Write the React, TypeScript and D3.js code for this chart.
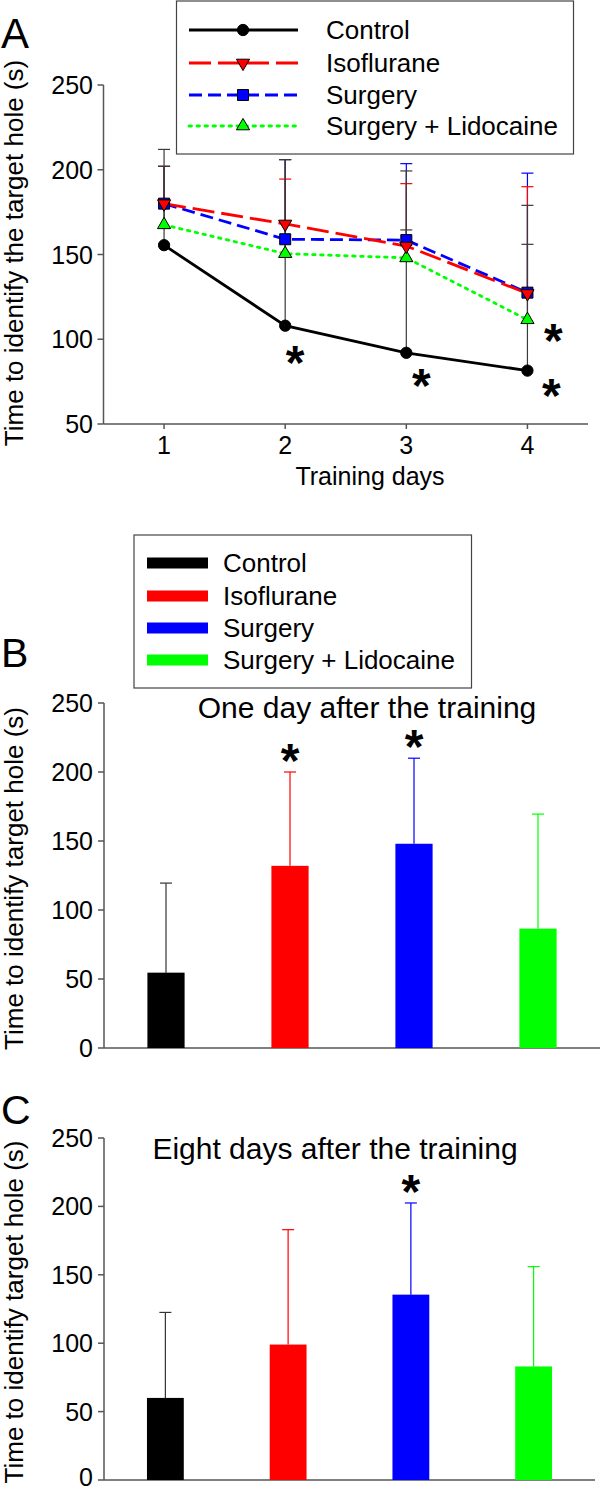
import React from "react";
import * as d3 from "d3";

const FONT = "'Liberation Sans', Arial, Helvetica, sans-serif";

// ---------- Panel A data ----------
const days = [1, 2, 3, 4];
const seriesNames = ["Control", "Isoflurane", "Surgery", "Surgery + Lidocaine"];
const controlMean = [155.5, 108, 92, 81.5];
const isoMean = [180, 168, 155, 127];
const surgeryMean = [180, 159, 158.5, 127.5];
const lidoMean = [167.5, 150.5, 148, 111.5];
const controlErrTop = [212, 206, 199.3, 179];
const isoErrTop = [202, 194.5, 191.8, 190];
const surgeryErrTop = [202, 206, 203.6, 198];
const lidoErrTop = [202, 206, 164.5, 156];
const yTicksA = [50, 100, 150, 200, 250];

// ---------- Panel B / C data ----------
const groups = ["Control", "Isoflurane", "Surgery", "Surgery + Lidocaine"];
const oneDayMean = [54.6, 132, 148, 86.5];
const oneDayErrTop = [119.5, 200, 210, 169.5];
const oneDayStars = [false, true, true, false];
const eightDayMean = [60, 99, 135.5, 83];
const eightDayErrTop = [122.5, 183, 202.5, 156];
const eightDayStars = [false, false, true, false];
const yTicksBar = [0, 50, 100, 150, 200, 250];

const colors = ["#000000", "#ff0000", "#0000ff", "#00ff00"];
const errColorsA = ["#3a3a3a", "#ff0000", "#0000ff", "#3a3a3a"];
const errColorsBar = ["#333333", "#ff0000", "#0000ff", "#00ff00"];
const dashes = ["none", "22,7", "13,6", "2.5,5.5"];

const AXIS = "#555555";

function Star({ x, y }: { x: number; y: number }) {
  return (
    <text x={x} y={y + 27} textAnchor="middle" fontSize={48} fontWeight="bold" fontFamily={FONT} fill="#000">
      *
    </text>
  );
}

function Marker({ kind, x, y }: { kind: number; x: number; y: number }) {
  if (kind === 0) {
    const p = d3.symbol().type(d3.symbolCircle).size(100)();
    return <path d={p || ""} transform={`translate(${x},${y})`} fill="#000" stroke="#000" strokeWidth={1} />;
  }
  if (kind === 1) {
    const p = d3.symbol().type(d3.symbolTriangle).size(75)();
    return <path d={p || ""} transform={`translate(${x},${y}) rotate(180)`} fill="#ff0000" stroke="#000" strokeWidth={1} />;
  }
  if (kind === 2) {
    const p = d3.symbol().type(d3.symbolSquare).size(121)();
    return <path d={p || ""} transform={`translate(${x},${y})`} fill="#0000ff" stroke="#000" strokeWidth={1} />;
  }
  const p = d3.symbol().type(d3.symbolTriangle).size(75)();
  return <path d={p || ""} transform={`translate(${x},${y})`} fill="#00ff00" stroke="#000" strokeWidth={1} />;
}

function PanelA() {
  const x = d3.scaleLinear().domain([0.5, 4.5]).range([103.5, 588]);
  const y = d3.scaleLinear().domain([50, 250]).range([424, 85]);
  const means = [controlMean, isoMean, surgeryMean, lidoMean];
  const errs = [controlErrTop, isoErrTop, surgeryErrTop, lidoErrTop];
  const line = d3
    .line<number>()
    .x((_, i) => x(days[i]))
    .y((d) => y(d));
  // draw order for error bars: colored first, dark on top
  const errOrder = [2, 1, 3, 0];
  const lineOrder = [3, 2, 1, 0];
  const legendRows = [30, 63, 95, 126];
  return (
    <g>
      <text x={1} y={48} fontSize={42} fontFamily={FONT}>A</text>
      {/* axes */}
      <line x1={103.5} x2={103.5} y1={y(250)} y2={y(50)} stroke={AXIS} strokeWidth={1.5} />
      <line x1={103.5} x2={588} y1={y(50)} y2={y(50)} stroke={AXIS} strokeWidth={1.5} />
      {yTicksA.map((t) => (
        <g key={t}>
          <line x1={97.5} x2={103.5} y1={y(t)} y2={y(t)} stroke={AXIS} strokeWidth={1.5} />
          <text x={93} y={y(t) + 9} textAnchor="end" fontSize={25} fontFamily={FONT}>{t}</text>
        </g>
      ))}
      {days.map((d) => (
        <g key={d}>
          <line x1={x(d)} x2={x(d)} y1={y(50)} y2={y(50) + 5} stroke={AXIS} strokeWidth={1.5} />
          <text x={x(d)} y={454} textAnchor="middle" fontSize={25} fontFamily={FONT}>{d}</text>
        </g>
      ))}
      <text x={370} y={485} textAnchor="middle" fontSize={25} fontFamily={FONT}>Training days</text>
      <text transform={`translate(23,253) rotate(-90)`} textAnchor="middle" fontSize={26} fontFamily={FONT}>
        Time to identify the target hole (s)
      </text>
      {/* error bars */}
      {errOrder.map((s) =>
        days.map((d, i) => (
          <g key={`e${s}-${i}`}>
            <line x1={x(d)} x2={x(d)} y1={y(means[s][i])} y2={y(errs[s][i])} stroke={errColorsA[s]} strokeWidth={1.2} />
            <line x1={x(d) - 6} x2={x(d) + 6} y1={y(errs[s][i])} y2={y(errs[s][i])} stroke={errColorsA[s]} strokeWidth={1.2} />
          </g>
        ))
      )}
      {/* lines */}
      {lineOrder.map((s) => (
        <path key={`l${s}`} d={line(means[s]) || ""} fill="none" stroke={colors[s]} strokeWidth={2.8}
          strokeDasharray={dashes[s]} strokeLinecap={s === 3 ? "round" : "butt"} />
      ))}
      {lineOrder.map((s) => days.map((d, i) => <Marker key={`m${s}-${i}`} kind={s} x={x(d)} y={y(means[s][i])} />))}
      {/* significance */}
      <Star x={x(2) + 10} y={y(controlMean[1]) + 26} />
      <Star x={x(3) + 15} y={y(controlMean[2]) + 22} />
      <Star x={x(4) + 24} y={y(controlMean[3]) + 14} />
      <Star x={x(4) + 26} y={y(lidoMean[3]) + 10} />
      {/* legend */}
      <rect x={176.5} y={1} width={397} height={153} fill="#fff" stroke="#444" strokeWidth={1.2} />
      {seriesNames.map((n, s) => (
        <g key={n}>
          <line x1={189} x2={298} y1={legendRows[s]} y2={legendRows[s]} stroke={colors[s]} strokeWidth={2.8}
            strokeDasharray={dashes[s]} strokeLinecap={s === 3 ? "round" : "butt"} />
          <Marker kind={s} x={243} y={legendRows[s]} />
          <text x={326} y={legendRows[s] + 9} fontSize={26} fontFamily={FONT}>{n}</text>
        </g>
      ))}
    </g>
  );
}

function BarPanel({ label, labelY, title, titleX, titleY, means, errs, stars, top, bottom, right, legend }: {
  label: string; labelY: number; title: string; titleX: number; titleY: number;
  means: number[]; errs: number[]; stars: boolean[]; top: number; bottom: number; right: number; legend: boolean;
}) {
  const x = d3.scaleBand<string>().domain(groups).range([104, right]).paddingInner(0.7).paddingOuter(0.35);
  const y = d3.scaleLinear().domain([0, 250]).range([bottom, top]);
  const legendRows = [563, 596, 628, 660];
  return (
    <g>
      <text x={1} y={labelY} fontSize={41} fontFamily={FONT}>{label}</text>
      {legend && (
        <g>
          <rect x={134} y={535} width={337.5} height={153} fill="#fff" stroke="#444" strokeWidth={1.2} />
          {groups.map((g, i) => (
            <g key={g}>
              <rect x={147} y={legendRows[i] - 5.5} width={61} height={11} fill={colors[i]} />
              <text x={223} y={legendRows[i] + 9} fontSize={26} fontFamily={FONT}>{g}</text>
            </g>
          ))}
        </g>
      )}
      <line x1={104} x2={104} y1={y(250)} y2={y(0)} stroke={AXIS} strokeWidth={1.5} />
      <line x1={104} x2={right} y1={y(0)} y2={y(0)} stroke={AXIS} strokeWidth={1.5} />
      {yTicksBar.map((t) => (
        <g key={t}>
          <line x1={98} x2={104} y1={y(t)} y2={y(t)} stroke={AXIS} strokeWidth={1.5} />
          <text x={93} y={Math.min(y(t) + 9, 1486)} textAnchor="end" fontSize={25} fontFamily={FONT}>{t}</text>
        </g>
      ))}
      <text transform={`translate(23,${(top + bottom) / 2 + 3}) rotate(-90)`} textAnchor="middle" fontSize={26} fontFamily={FONT}>
        Time to identify target hole (s)
      </text>
      <text x={titleX} y={titleY} textAnchor="middle" fontSize={30} fontFamily={FONT}>{title}</text>
      {groups.map((g, i) => {
        const cx = (x(g) || 0) + x.bandwidth() / 2;
        return (
          <g key={g}>
            <line x1={cx} x2={cx} y1={y(means[i])} y2={y(errs[i])} stroke={errColorsBar[i]} strokeWidth={1.2} />
            <line x1={cx - 6} x2={cx + 6} y1={y(errs[i])} y2={y(errs[i])} stroke={errColorsBar[i]} strokeWidth={1.2} />
            <rect x={x(g)} y={y(means[i])} width={x.bandwidth()} height={y(0) - y(means[i])} fill={colors[i]} />
            {stars[i] && <Star x={cx} y={y(errs[i]) - 22} />}
          </g>
        );
      })}
    </g>
  );
}

export default function App() {
  return (
    <svg width={600} height={1491} style={{ position: "absolute", left: 0, top: 0, background: "#fff" }}>
      <rect width={600} height={1491} fill="#fff" />
      <PanelA />
      <BarPanel label="B" labelY={667} title="One day after the training" titleX={367} titleY={718}
        means={oneDayMean} errs={oneDayErrTop} stars={oneDayStars} top={703} bottom={1048} right={600} legend={true} />
      <BarPanel label="C" labelY={1124} title="Eight days after the training" titleX={335} titleY={1159}
        means={eightDayMean} errs={eightDayErrTop} stars={eightDayStars} top={1138} bottom={1480} right={595} legend={false} />
    </svg>
  );
}
